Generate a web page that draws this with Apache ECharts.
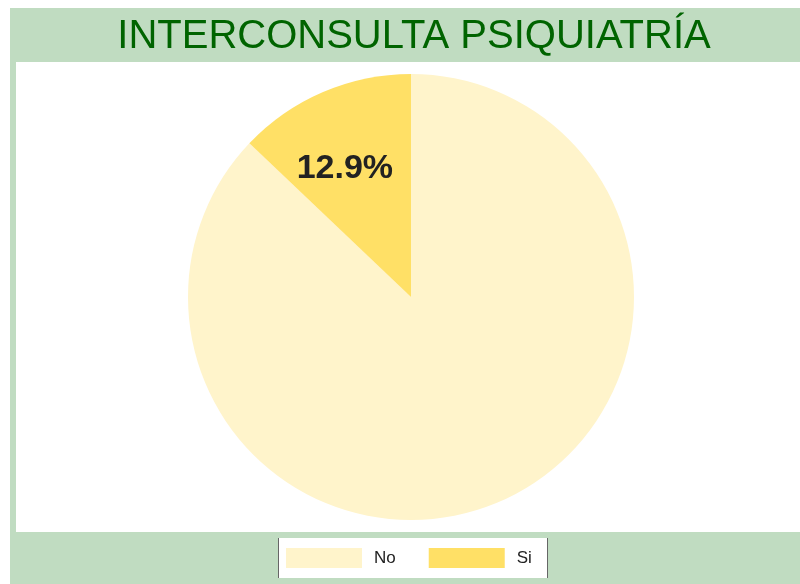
<!DOCTYPE html>
<html>
<head>
<meta charset="utf-8">
<script src="https://cdn.jsdelivr.net/npm/echarts@6/dist/echarts.min.js"></script>
<style>
  html, body { margin: 0; padding: 0; background: #fff; }
  #main { width: 800px; height: 584px; }
</style>
</head>
<body>
<div id="main"></div>
<script>
  // datos del gráfico
  var categories = ['No', 'Si'];
  var values = [87.1, 12.9];
  var colors = ['#fff4cb', '#ffe066'];

  var chart = echarts.init(document.getElementById('main'), null, { renderer: 'canvas' });

  var option = {
    animation: false,
    backgroundColor: '#ffffff',
    title: {
      text: 'INTERCONSULTA PSIQUIATRÍA',
      left: 409,
      top: 12,
      textAlign: 'center',
      textStyle: {
        color: '#006400',
        fontFamily: 'Liberation Sans, Arial, sans-serif',
        fontWeight: 'normal',
        fontSize: 40
      }
    },
    graphic: [
      // franja verde de fondo
      { type: 'rect', z: -10, shape: { x: 10, y: 8, width: 790, height: 576 }, style: { fill: '#c0dcc1' } },
      // área blanca
      { type: 'rect', z: -9, shape: { x: 16, y: 62, width: 784, height: 470 }, style: { fill: '#ffffff' } },
      // bordes de la leyenda
      { type: 'rect', z: -8, shape: { x: 278, y: 538, width: 270, height: 40 }, style: { fill: '#ffffff' } },
      { type: 'line', z: 5, shape: { x1: 278.5, y1: 538, x2: 278.5, y2: 578 }, style: { stroke: '#666', lineWidth: 1 } },
      { type: 'line', z: 5, shape: { x1: 547.5, y1: 538, x2: 547.5, y2: 578 }, style: { stroke: '#666', lineWidth: 1 } }
    ],
    legend: {
      data: categories,
      left: 286,
      top: 548,
      padding: 0,
      itemWidth: 76,
      itemHeight: 20,
      itemGap: 33,
      icon: 'rect',
      textStyle: {
        color: '#222',
        fontFamily: 'Liberation Sans, Arial, sans-serif',
        fontSize: 17,
        padding: [0, 0, 0, 7]
      }
    },
    series: [{
      type: 'pie',
      center: [411, 297],
      radius: 223,
      startAngle: 90,
      clockwise: true,
      silent: true,
      label: {
        show: true,
        position: 'inside',
        formatter: '{d}%',
        color: '#222',
        fontFamily: 'Liberation Sans, Arial, sans-serif',
        fontWeight: 'bold',
        fontSize: 34
      },
      labelLine: { show: false },
      data: categories.map(function (c, i) {
        var item = { name: c, value: values[i], itemStyle: { color: colors[i] } };
        if (c === 'No') item.label = { show: false };
        else item.label = { offset: [-21, -23] };
        return item;
      })
    }]
  };

  chart.setOption(option);
</script>
</body>
</html>
